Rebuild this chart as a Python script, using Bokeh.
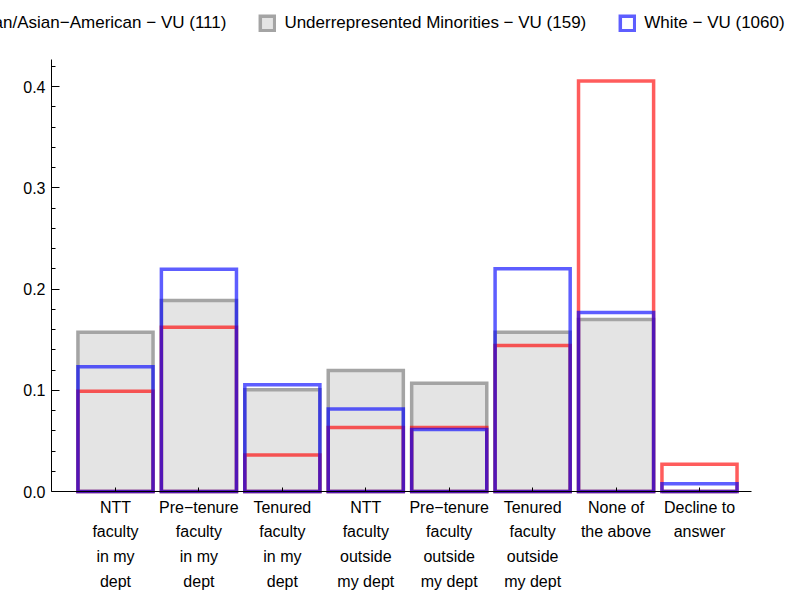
from bokeh.plotting import figure
from bokeh.models import (FixedTicker, Range1d, Legend, LegendItem,
                          ColumnDataSource, PrintfTickFormatter)
from bokeh.embed import file_html
from bokeh.resources import INLINE

# ---- data ----
categories = [
    "NTT\nfaculty\nin my\ndept",
    "Pre\u2212tenure\nfaculty\nin my\ndept",
    "Tenured\nfaculty\nin my\ndept",
    "NTT\nfaculty\noutside\nmy dept",
    "Pre\u2212tenure\nfaculty\noutside\nmy dept",
    "Tenured\nfaculty\noutside\nmy dept",
    "None of\nthe above",
    "Decline to\nanswer",
]
asian = [0.0991, 0.1622, 0.0360, 0.0631, 0.0631, 0.1441, 0.4054, 0.0270]
urm = [0.1572, 0.1887, 0.1006, 0.1195, 0.1069, 0.1572, 0.1698, 0.0]
white = [0.1232, 0.2196, 0.1054, 0.0814, 0.0612, 0.2200, 0.1769, 0.0076]
series_labels = [
    "Asian/Asian\u2212American \u2212 VU (111)",
    "Underrepresented Minorities \u2212 VU (159)",
    "White \u2212 VU (1060)",
]
y_ticks = [0.0, 0.1, 0.2, 0.3, 0.4]
y_minor_ticks = [0.02, 0.04, 0.06, 0.08, 0.12, 0.14, 0.16, 0.18, 0.22, 0.24,
                 0.26, 0.28, 0.32, 0.34, 0.36, 0.38, 0.42]

x_pos = list(range(1, len(categories) + 1))
src = ColumnDataSource(dict(x=x_pos, asian=asian, urm=urm, white=white))

FONT = "Liberation Sans"
X_AXIS_BOUNDS = (0.2329, 8.6233)
Y_AXIS_BOUNDS = (0.0, 0.4267)

p = figure(width=790, height=592, output_backend="svg", toolbar_location=None,
           x_range=Range1d(-0.3784, 9.0908), y_range=Range1d(-0.09975, 0.48494),
           min_border=0)
p.outline_line_color = None
p.xgrid.visible = False
p.ygrid.visible = False
p.background_fill_color = "white"
p.border_fill_color = "white"

common = dict(x='x', width=0.9, source=src, line_width=3.5, line_join="miter")
r_urm = p.vbar(top='urm', fill_color="#E4E4E4", line_color="#A4A4A4", **common)
r_asian = p.vbar(top='asian', fill_color=None, line_color="#FF0000",
                 line_alpha=0.64, **common)
r_white = p.vbar(top='white', fill_color=None, line_color="#0000FF",
                 line_alpha=0.63, **common)

# x axis (drawn at y = 0)
xa = p.xaxis[0]
xa.fixed_location = 0
xa.bounds = X_AXIS_BOUNDS
xa.ticker = FixedTicker(ticks=x_pos)
xa.major_label_overrides = {x: c for x, c in zip(x_pos, categories)}
xa.major_tick_in = 4
xa.major_tick_out = 0
xa.minor_tick_line_color = None
xa.major_label_standoff = 7
xa.major_label_text_font = FONT
xa.major_label_text_font_size = "16px"
xa.major_label_text_color = "black"
xa.major_label_text_line_height = 1.47
xa.axis_line_color = "black"
xa.major_tick_line_color = "black"

# y axis (drawn at the left end of the x axis)
ya = p.yaxis[0]
ya.fixed_location = X_AXIS_BOUNDS[0]
ya.bounds = Y_AXIS_BOUNDS
ya.ticker = FixedTicker(ticks=y_ticks, minor_ticks=y_minor_ticks)
ya.formatter = PrintfTickFormatter(format="%.1f")
ya.major_tick_in = 8
ya.major_tick_out = 0
ya.minor_tick_in = 4
ya.minor_tick_out = 0
ya.major_label_standoff = 6
ya.major_label_text_font = FONT
ya.major_label_text_font_size = "16px"
ya.major_label_text_color = "black"
ya.axis_line_color = "black"
ya.major_tick_line_color = "black"
ya.minor_tick_line_color = "black"

legend = Legend(
    items=[LegendItem(label=series_labels[0], renderers=[r_asian]),
           LegendItem(label=series_labels[1], renderers=[r_urm]),
           LegendItem(label=series_labels[2], renderers=[r_white])],
    orientation="horizontal", location=(-56, 559),
    border_line_color=None, background_fill_alpha=0,
    padding=0, margin=0, spacing=32, label_standoff=8,
    glyph_width=18, glyph_height=18, label_height=18,
    label_text_font=FONT, label_text_font_size="17px",
    label_text_color="black")
p.add_layout(legend)

open("out.html", "w").write(file_html(p, INLINE))
